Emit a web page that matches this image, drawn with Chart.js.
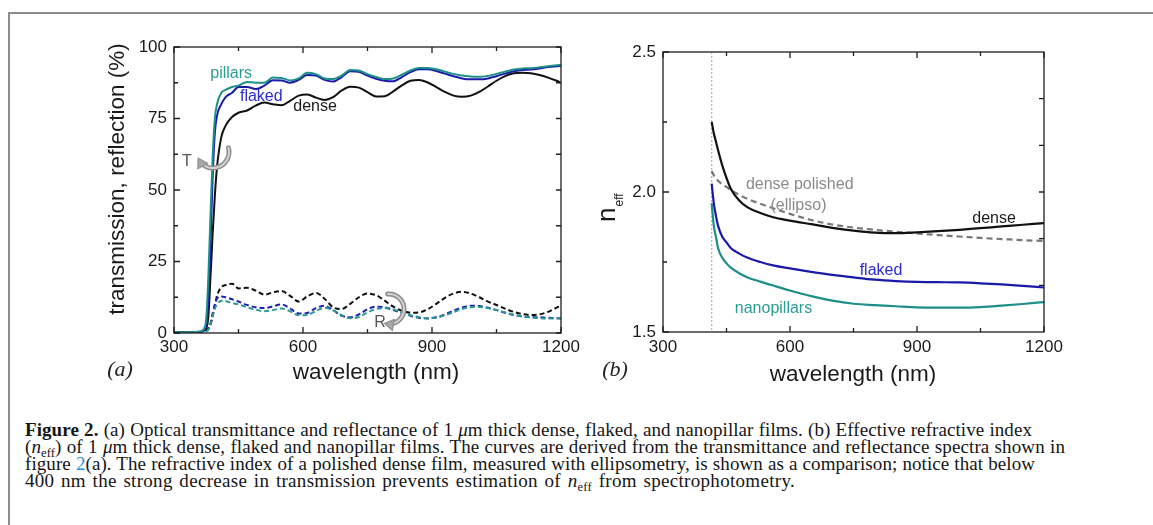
<!DOCTYPE html>
<html>
<head>
<meta charset="utf-8">
<script src="https://cdn.jsdelivr.net/npm/chart.js@4.4.1/dist/chart.umd.min.js"></script>
<style>
html,body{margin:0;padding:0;background:#fff;width:1153px;height:525px;overflow:hidden;position:relative;}
#frame{position:absolute;left:8px;top:12px;width:1200px;height:600px;border-left:2px solid #8c8c8c;border-top:2px solid #8c8c8c;}
canvas{position:absolute;top:0;}
#cA{left:0;}
#cB{left:580px;}
#cap{position:absolute;left:25px;top:420.5px;font-family:"Liberation Serif","Times New Roman",serif;font-size:19px;line-height:17.3px;color:#161616;}
#cap div{white-space:nowrap;height:17.3px;}
#cap sub{font-size:0.66em;vertical-align:-0.3em;line-height:0;}
#cap .lk{color:#2d8fd0;}
</style>
</head>
<body>
<div id="frame"></div>
<canvas id="cA" width="600" height="400"></canvas>
<canvas id="cB" width="520" height="400"></canvas>
<div id="cap">
<div data-w="1007"><b>Figure 2.</b> (a) Optical transmittance and reflectance of 1 <i>μ</i>m thick dense, flaked, and nanopillar films. (b) Effective refractive index</div>
<div data-w="1040">(<i>n</i><sub>eff</sub>) of 1 <i>μ</i>m thick dense, flaked and nanopillar films. The curves are derived from the transmittance and reflectance spectra shown in</div>
<div data-w="1010">figure <span class="lk">2</span>(a). The refractive index of a polished dense film, measured with ellipsometry, is shown as a comparison; notice that below</div>
<div data-w="770">400 nm the strong decrease in transmission prevents estimation of <i>n</i><sub>eff</sub> from spectrophotometry.</div>
</div>
<script>
// ---------- data: panel (a) transmission / reflection (%) ----------
const wlA = [300,340,360,370,375,380,385,390,395,400,410,420,435,450,470,490,510,530,550,570,590,610,630,650,670,690,710,730,750,770,790,810,830,850,870,890,910,930,950,970,990,1010,1030,1050,1070,1090,1110,1130,1150,1170,1190,1200];
const tPillars = [0.3,0.3,0.5,1.5,5,20,42,62,75,80,84,85,86,86.5,87.8,87.5,87.5,89.3,89.2,88.3,89,91,90.5,89,88.8,90,92,91.8,90.5,89.5,88.8,89,90.3,91.8,92.7,92.7,92.2,91.4,90.6,90,89.7,89.6,89.9,90.6,91.4,92.1,92.5,92.6,92.9,93.3,93.6,93.7];
const tFlaked = [0.2,0.2,0.4,1,3,12,32,55,70,76,80,82.5,84,86,86,85.3,86.5,88.4,88.3,87.5,88.5,90.2,90,88.5,87.9,89.5,91.5,91.3,90,88.9,88.2,88,89.5,91.2,92.2,92.2,91.6,90.7,89.8,89,88.7,88.7,89,89.8,90.7,91.5,92,92.1,92.5,93,93.3,93.4];
const tDense = [0.2,0.2,0.3,0.8,1.5,6,20,35,48,58,68.5,72.5,75.5,77,77.8,79.5,80.6,80,79.6,81.2,83,83.4,82.3,81.5,82.5,84.8,86.1,85.8,84.2,82.7,82.8,84.5,86.6,88.2,88.5,87.6,86,84.3,83,82.6,83,84.3,86.2,88.2,89.8,90.8,91,90.8,90.2,89.3,88.2,87.5];
const rDense = [0.2,0.2,0.3,0.5,0.8,1.5,3,6,9.5,13,16,16.8,17.2,15.6,15.8,14.8,13.4,14.2,14.7,13,11,12.8,14,12,9,8.4,10.2,12.5,13.8,13.2,11.3,9.2,7.8,7.1,7.2,8.3,10.2,12.3,13.8,14.4,13.8,12.5,11,9.8,8.5,7.4,6.6,6.3,6.5,7.4,8.9,9.8];
const rFlaked = [0.1,0.1,0.2,0.4,0.7,1.5,3.5,7,10,12,12.8,12.5,11.8,11,9.8,9,8.7,9.3,10,8.6,6.8,7,8.7,9.5,8,6,5.5,6.5,8.3,9.2,9,8,7,6,5.3,5.1,5.5,6.5,7.8,8.9,9.5,9.4,8.8,8,7.1,6.3,5.8,5.6,5.5,5.3,5.2,5.2];
const rPillars = [0.1,0.1,0.2,0.3,0.6,1.2,3,6,8.5,10,11.3,11.2,10.5,10,9,8.2,7.6,8,8.6,7.6,6.2,6.3,7.7,8.8,7.9,6.2,5.2,5.6,7.2,8.4,8.7,8.2,7.2,6.2,5.5,5.2,5.4,6.2,7.3,8.4,9,9.1,8.7,8,7.2,6.4,5.8,5.4,5.2,5.1,5.1,5.1];

// ---------- data: panel (b) effective refractive index ----------
const wlB = [415,420,425,430,440,450,460,480,500,530,560,600,650,700,750,800,850,900,950,1000,1050,1100,1150,1200];
const nDense = [2.25,2.21,2.18,2.15,2.095,2.05,2.012,1.97,1.945,1.925,1.91,1.898,1.885,1.872,1.862,1.855,1.853,1.856,1.86,1.865,1.871,1.877,1.883,1.889];
const nEllipso = [2.075,2.06,2.05,2.04,2.028,2.018,2.007,1.99,1.975,1.958,1.942,1.922,1.9,1.884,1.873,1.865,1.858,1.852,1.846,1.841,1.836,1.832,1.828,1.825];
const nFlaked = [2.03,1.96,1.915,1.88,1.84,1.82,1.80,1.78,1.765,1.75,1.738,1.727,1.715,1.704,1.695,1.687,1.682,1.679,1.678,1.677,1.674,1.67,1.665,1.659];
const nPillars = [1.96,1.88,1.84,1.80,1.765,1.745,1.73,1.71,1.695,1.68,1.666,1.648,1.628,1.612,1.601,1.596,1.592,1.588,1.587,1.587,1.589,1.594,1.6,1.607];
const cutoffNm = 415;

// ---------- tick labels ----------
const xTicks = [300,600,900,1200];
const xMinor = [450,750,1050];
const yTicksA = [0,25,50,75,100];
const yMinorA = [12.5,37.5,62.5,87.5];
const yTicksB = [1.5,2.0,2.5];
const yMinorB = [1.75,2.25];
const yRightB = [1.5+1/6,1.5+2/6,1.5+3/6,1.5+4/6,1.5+5/6];

// ---------- text annotations (data coordinates) ----------
const labelsA = [
  {text:'pillars', x:433, y:90.6, color:'#2a9d94'},
  {text:'flaked', x:503, y:82.5, color:'#2b2bd0'},
  {text:'dense', x:628, y:79, color:'#1a1a1a'},
  {text:'T', x:330, y:60, color:'#555'},
  {text:'R', x:779, y:3.8, color:'#555'}
];
const labelsB = [
  {text:'dense polished', x:623, y:2.027, color:'#8a8a8a'},
  {text:'(ellipso)', x:620, y:1.952, color:'#8a8a8a'},
  {text:'dense', x:1082, y:1.906, color:'#1a1a1a'},
  {text:'flaked', x:815, y:1.72, color:'#2b2bd0'},
  {text:'nanopillars', x:561, y:1.585, color:'#2a9d94'}
];
const arrowT = {x:390.7, y:63.3, r:16, a0:-15, a1:150};
const arrowR = {x:800, y:8.4, r:15, a0:-95, a1:100};

const SANS = "'Liberation Sans', Arial, sans-serif";
const SERIF = "'Liberation Serif', 'Times New Roman', serif";
Chart.defaults.font.family = SANS;

const TEAL = '#1e8f88', BLUE = '#1a1aa8', BLACK = '#111111', GREY = '#777777';

function series(xs, ys){ return xs.map((x,i)=>({x:x, y:ys[i]})); }
function lineDs(label, xs, ys, color, dash, width){
  return {label:label, data:series(xs,ys), borderColor:color, borderWidth:width||2,
    borderDash:dash||[], pointRadius:0, fill:false, cubicInterpolationMode:'monotone'};
}
function xScale(pad){
  return {type:'linear', min:300, max:1200,
    afterBuildTicks:s=>{s.ticks = xTicks.map(v=>({value:v}));},
    afterFit:s=>{s.height = 30;},
    grid:{display:false, drawTicks:false}, border:{display:false},
    ticks:{padding:pad, color:'#1a1a1a', font:{size:17}, maxRotation:0, autoSkip:false, callback:v=>String(v)}};
}
function yScale(min, max, ticks, fmt){
  return {type:'linear', min:min, max:max,
    afterBuildTicks:s=>{s.ticks = ticks.map(v=>({value:v}));},
    afterFit:s=>{s.width = 60;},
    grid:{display:false, drawTicks:false}, border:{display:false},
    ticks:{padding:7, color:'#1a1a1a', font:{size:17}, autoSkip:false, callback:fmt}};
}
function drawFrameTicks(chart, xMaj, xMin, yMaj, yMin, yRight){
  const ctx = chart.ctx, a = chart.chartArea, xs = chart.scales.x, ys = chart.scales.y;
  ctx.save();
  ctx.strokeStyle = '#1e1e1e'; ctx.lineWidth = 1.3;
  ctx.strokeRect(a.left, a.top, a.right - a.left, a.bottom - a.top);
  ctx.beginPath();
  const vx = (vals, len) => vals.forEach(v => { const p = xs.getPixelForValue(v);
    ctx.moveTo(p, a.bottom); ctx.lineTo(p, a.bottom - len); ctx.moveTo(p, a.top); ctx.lineTo(p, a.top + len); });
  const vy = (vals, len, side) => vals.forEach(v => { const p = ys.getPixelForValue(v);
    if (side !== 'r') { ctx.moveTo(a.left, p); ctx.lineTo(a.left + len, p); }
    if (side !== 'l') { ctx.moveTo(a.right, p); ctx.lineTo(a.right - len, p); } });
  vx(xMaj, 6); vx(xMin, 4);
  vy(yMaj, 6, 'l'); vy(yMin, 4, 'l'); vy(yRight, 5, 'r');
  ctx.stroke();
  ctx.restore();
}
function drawLabels(chart, labels){
  const ctx = chart.ctx, xs = chart.scales.x, ys = chart.scales.y;
  ctx.save();
  ctx.font = '16px ' + SANS; ctx.textAlign = 'center'; ctx.textBaseline = 'middle';
  labels.forEach(l => { ctx.fillStyle = l.color; ctx.fillText(l.text, xs.getPixelForValue(l.x), ys.getPixelForValue(l.y)); });
  ctx.restore();
}
function drawCurvedArrow(chart, arr){
  const ctx = chart.ctx;
  const cx = chart.scales.x.getPixelForValue(arr.x), cy = chart.scales.y.getPixelForValue(arr.y);
  const a0 = arr.a0*Math.PI/180, a1 = arr.a1*Math.PI/180;
  ctx.save();
  ctx.lineCap = 'round';
  ctx.beginPath(); ctx.arc(cx, cy, arr.r, a0, a1 - 0.25); ctx.strokeStyle = '#8e8e8e'; ctx.lineWidth = 5; ctx.stroke();
  ctx.beginPath(); ctx.arc(cx, cy, arr.r, a0, a1 - 0.25); ctx.strokeStyle = '#d2d2d2'; ctx.lineWidth = 2; ctx.stroke();
  const ex = cx + arr.r*Math.cos(a1), ey = cy + arr.r*Math.sin(a1);
  const tx = -Math.sin(a1), ty = Math.cos(a1);
  const nx = Math.cos(a1), ny = Math.sin(a1);
  const bx = ex - tx*7, by = ey - ty*7;
  ctx.beginPath();
  ctx.moveTo(ex + tx*2, ey + ty*2);
  ctx.lineTo(bx + nx*5.5, by + ny*5.5);
  ctx.lineTo(bx - nx*5.5, by - ny*5.5);
  ctx.closePath();
  ctx.fillStyle = '#a8a8a8'; ctx.fill(); ctx.strokeStyle = '#8e8e8e'; ctx.lineWidth = 1.2; ctx.stroke();
  ctx.restore();
}
function text(ctx, str, x, y, font, color, align, base){
  ctx.font = font; ctx.fillStyle = color; ctx.textAlign = align || 'center'; ctx.textBaseline = base || 'alphabetic';
  ctx.fillText(str, x, y);
}

// ---------- panel (a) ----------
const decoA = {
  id:'decoA',
  afterDraw(chart){
    const ctx = chart.ctx;
    drawFrameTicks(chart, xTicks, xMinor, yTicksA, yMinorA, yTicksA.concat(yMinorA));
    drawLabels(chart, labelsA);
    drawCurvedArrow(chart, arrowT);
    drawCurvedArrow(chart, arrowR);
    ctx.save();
    text(ctx, 'wavelength (nm)', 376, 379, '22.5px ' + SANS, '#1a1a1a');
    text(ctx, '(a)', 120, 376, 'italic 22px ' + SERIF, '#222');
    ctx.translate(118, 179); ctx.rotate(-Math.PI/2);
    text(ctx, 'transmission, reflection (%)', 0, 0, '22.5px ' + SANS, '#1a1a1a', 'center', 'middle');
    ctx.restore();
  }
};
new Chart(document.getElementById('cA'), {
  type:'line',
  data:{datasets:[
    lineDs('T pillars', wlA, tPillars, TEAL),
    lineDs('T flaked', wlA, tFlaked, BLUE),
    lineDs('T dense', wlA, tDense, BLACK),
    lineDs('R pillars', wlA, rPillars, '#2a9a92', [5,3]),
    lineDs('R flaked', wlA, rFlaked, '#2020b8', [5,3]),
    lineDs('R dense', wlA, rDense, BLACK, [5,3])
  ]},
  options:{
    responsive:false, animation:false, devicePixelRatio:1,
    layout:{padding:{left:114, top:47, right:39, bottom:37}},
    plugins:{legend:{display:false}, tooltip:{enabled:false}},
    scales:{x:xScale(4), y:yScale(0, 100, yTicksA, v=>String(v))}
  },
  plugins:[decoA]
});

// ---------- panel (b) ----------
const decoB = {
  id:'decoB',
  beforeDatasetsDraw(chart){
    const ctx = chart.ctx, a = chart.chartArea, p = chart.scales.x.getPixelForValue(cutoffNm);
    ctx.save(); ctx.strokeStyle = '#b0b0b0'; ctx.lineWidth = 1.2; ctx.setLineDash([2,2]);
    ctx.beginPath(); ctx.moveTo(p, a.top); ctx.lineTo(p, a.bottom); ctx.stroke(); ctx.restore();
  },
  afterDraw(chart){
    const ctx = chart.ctx;
    drawFrameTicks(chart, xTicks, xMinor, yTicksB, yMinorB, yRightB);
    drawLabels(chart, labelsB);
    ctx.save();
    text(ctx, 'wavelength (nm)', 273, 381, '22.5px ' + SANS, '#1a1a1a');
    text(ctx, '(b)', 35, 376, 'italic 22px ' + SERIF, '#222');
    ctx.translate(35, 222); ctx.rotate(-Math.PI/2);
    ctx.font = '26px ' + SANS; ctx.fillStyle = '#1a1a1a'; ctx.textAlign = 'left'; ctx.textBaseline = 'alphabetic';
    ctx.fillText('n', 0, 0);
    const w = ctx.measureText('n').width;
    ctx.font = '12px ' + SANS; ctx.fillText('eff', w + 1, 8);
    ctx.restore();
  }
};
new Chart(document.getElementById('cB'), {
  type:'line',
  data:{datasets:[
    lineDs('dense', wlB, nDense, BLACK, [], 2.2),
    lineDs('flaked', wlB, nFlaked, BLUE, [], 2.2),
    lineDs('nanopillars', wlB, nPillars, TEAL, [], 2.2),
    lineDs('dense polished (ellipso)', wlB, nEllipso, GREY, [6,4], 2.2)
  ]},
  options:{
    responsive:false, animation:false, devicePixelRatio:1,
    layout:{padding:{left:23, top:52, right:56, bottom:38}},
    plugins:{legend:{display:false}, tooltip:{enabled:false}},
    scales:{x:xScale(5), y:yScale(1.5, 2.5, yTicksB, v=>Number(v).toFixed(1))}
  },
  plugins:[decoB]
});

// ---------- caption line fitting ----------
function fitCaption(){
  document.querySelectorAll('#cap div').forEach(d => {
    d.style.wordSpacing = '0px';
    d.style.letterSpacing = '0px';
    d.style.display = 'inline-block';
    const w = d.getBoundingClientRect().width;
    const target = Number(d.dataset.w);
    const spaces = (d.textContent.match(/ /g) || []).length || 1;
    const n = d.textContent.length;
    // share the difference: 40% in word gaps, 60% across letters
    d.style.wordSpacing = (0.4 * (target - w) / spaces).toFixed(3) + 'px';
    d.style.letterSpacing = (0.6 * (target - w) / n).toFixed(3) + 'px';
    const w2 = d.getBoundingClientRect().width;
    d.style.wordSpacing = (0.4 * (target - w) / spaces + (target - w2) / spaces).toFixed(3) + 'px';
    d.style.display = 'block';
  });
}
fitCaption();
if (document.fonts && document.fonts.ready) document.fonts.ready.then(fitCaption);
</script>
</body>
</html>
